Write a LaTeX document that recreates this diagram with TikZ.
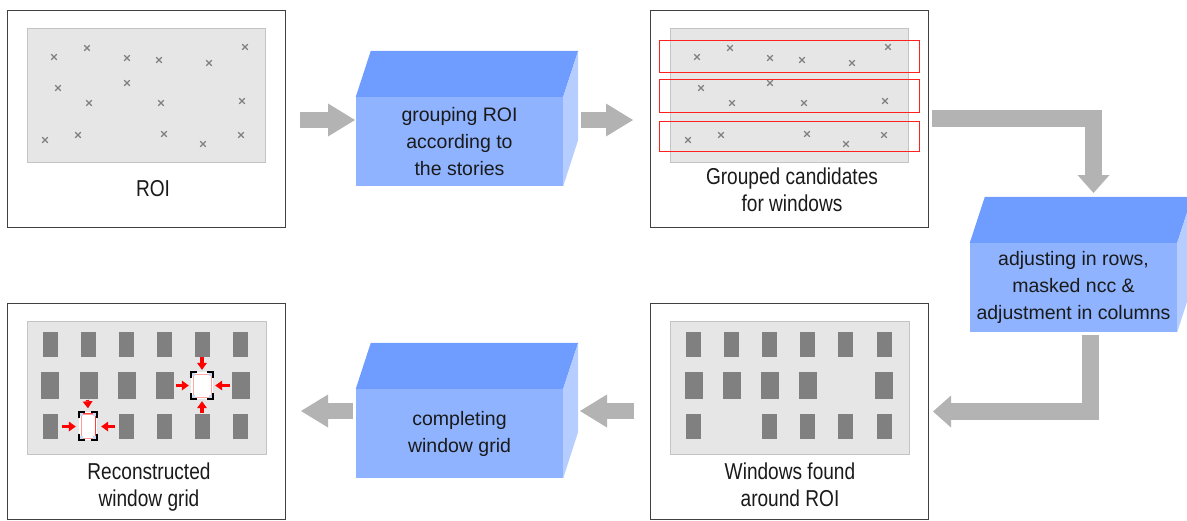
\documentclass[tikz,border=0pt]{standalone}
\usepackage{fontspec}
\setmainfont{Liberation Sans}
\newfontfamily\lblfont{Liberation Sans}[FakeStretch=0.83]
\usetikzlibrary{arrows.meta,calc}

\definecolor{framegray}{HTML}{404040}
\definecolor{areagray}{HTML}{E6E6E6}
\definecolor{areaedge}{HTML}{C4C4C4}
\definecolor{markgray}{HTML}{7F7F7F}
\definecolor{wingray}{HTML}{808080}
\definecolor{flowgray}{HTML}{B3B3B3}
\definecolor{frontblue}{HTML}{8FB3FF}
\definecolor{topblue}{HTML}{6E9DFF}
\definecolor{sideblue}{HTML}{B5CEFF}
\definecolor{groupred}{HTML}{FF2020}
\definecolor{glassblue}{HTML}{C8DCF5}
\definecolor{textblack}{HTML}{1A1A1A}

\tikzset{
  panel/.style={draw=framegray, line width=0.9pt, fill=white, minimum width=278, minimum height=217, inner sep=0},
  area/.style={draw=areaedge, line width=0.8pt, fill=areagray, minimum width=238, minimum height=134, inner sep=0},
  grouprow/.style={draw=groupred, line width=1.4pt, minimum width=260, inner sep=0},
  procbox/.style={fill=frontblue, minimum width=207, minimum height=89, inner sep=0, align=center,
    text=textblack, font=\fontsize{19.5}{27}\selectfont},
  lbl/.style={inner sep=0, align=center, text=textblack, font=\lblfont\fontsize{23}{27}\selectfont},
  crossmark/.style={draw=markgray, line width=1.2pt},
  win/.style={fill=wingray},
  gapbox/.style={fill=white, inner sep=0, minimum width=22, minimum height=27},
  flow/.style={draw=flowgray, line width=16pt, -{Triangle[length=27pt,width=33pt,line width=0pt]}},
  flowbend/.style={draw=flowgray, line width=17pt, line join=miter, -{Triangle[length=18pt,width=32pt,line width=0pt]}},
  push/.style={draw=red, line width=3.2pt, -{Triangle[length=7pt,width=10pt,line width=0pt]}},
}

% top and right faces of a process block
\newcommand\blockfaces[1]{%
  \fill[topblue] (#1.north west) -- ++(15,-46) -- ($(#1.north east)+(15,-46)$) -- (#1.north east) -- cycle;
  \fill[sideblue] (#1.north east) -- ++(15,-46) -- ++(0,89) -- (#1.south east) -- cycle;}

% corner brackets and glass tint of a re-inserted window
\newcommand\gapcorners[1]{%
  \fill[glassblue] (#1.north west) rectangle ++(4,4);
  \fill[glassblue] (#1.north east) rectangle ++(-4,4);
  \fill[glassblue] (#1.south west) rectangle ++(4,-4);
  \fill[glassblue] (#1.south east) rectangle ++(-4,-4);
  \draw[black, line width=1.6pt]
    ($(#1.north west)+(0,6)$) -- (#1.north west) -- ++(6,0)
    ($(#1.north east)+(-6,0)$) -- (#1.north east) -- ++(0,6)
    ($(#1.south west)+(0,-6)$) -- (#1.south west) -- ++(6,0)
    ($(#1.south east)+(-6,0)$) -- (#1.south east) -- ++(0,-6);}

\begin{document}
\begin{tikzpicture}[x=1pt,y=-1pt]
\useasboundingbox (0,0) rectangle (1187,520);
\clip (0,0) rectangle (1187,520);

% ---------- panels ----------
\node[panel] (roi) at (146,118.5) {};
\node[area] (roiarea) at (146,95) {};
\node[panel] (grouped) at (789,118.5) {};
\node[area] (grouparea) at (789,95) {};
\node[panel, minimum height=216] (found) at (789,411) {};
\node[area, minimum width=239, minimum height=133] (foundarea) at (789.5,387.5) {};
\node[panel, minimum height=216] (recon) at (146,411) {};
\node[area, minimum width=239, minimum height=133] (reconarea) at (146.5,387.5) {};

% ---------- candidate marks ----------
\foreach \dx in {0,643}{
  \foreach \x/\y in {54/57,87/48,127/58,159/60,209/63,245/47,
                     58/88,127/83,89/103,161/103,242/101,
                     45/140,78/135,164/134,203/144,241/135}{
    \draw[crossmark] (\x+\dx-2.8,\y-2.8) -- (\x+\dx+2.8,\y+2.8)
                     (\x+\dx-2.8,\y+2.8) -- (\x+\dx+2.8,\y-2.8);
  }
}

% ---------- story groups ----------
\node[grouprow, minimum height=32] (story1) at (789.5,56.5) {};
\node[grouprow, minimum height=33] (story2) at (789.5,96) {};
\node[grouprow, minimum height=30] (story3) at (789.5,136.5) {};

% ---------- windows found ----------
\foreach \x in {686,724,762,800,838,877} \fill[win] (\x,332) rectangle ++(15,25);
\foreach \x in {685,723,761,799,875} \fill[win] (\x,372) rectangle ++(18,27);
\foreach \x in {686,762,800,838,877} \fill[win] (\x,414) rectangle ++(15,25);

% ---------- reconstructed grid ----------
\foreach \x in {43,81,119,157,195,233} \fill[win] (\x,332) rectangle ++(15,25);
\foreach \x in {41,80,118,156,232} \fill[win] (\x,372) rectangle ++(18,27);
\foreach \x in {43,119,157,195,233} \fill[win] (\x,414) rectangle ++(15,25);

\node[gapbox] (gapA) at (202,385.5) {};
\draw[red!35, line width=0.5pt] ($(gapA.north west)+(2,2)$) rectangle ($(gapA.south east)+(-2,-2)$);
\gapcorners{gapA}
\node[gapbox, minimum width=18, minimum height=28] (gapB) at (88,426) {};
\draw[red!40, line width=0.5pt] ($(gapB.north west)+(2,2)$) rectangle ($(gapB.south east)+(-2,-2)$);
\draw[red!75, line width=0.8pt] ($(gapB.north west)+(2,2)$) -- ($(gapB.north east)+(-2,2)$) -- ($(gapB.south east)+(-2,-2)$);
\gapcorners{gapB}

\coordinate (pA1) at (202,357);
\coordinate (pA2) at (202,413);
\coordinate (pA3) at (176,385.5);
\coordinate (pA4) at (230,385.5);
\draw[push] (pA1) -- ($(gapA.north)+(0,-2)$);
\draw[push] (pA2) -- ($(gapA.south)+(0,2)$);
\draw[push] (pA3) -- ($(gapA.west)+(-2,0)$);
\draw[push] (pA4) -- ($(gapA.east)+(2,0)$);
\coordinate (pB1) at (87.5,400);
\coordinate (pB3) at (61.5,426.5);
\coordinate (pB4) at (115,426.5);
\draw[push] (pB1) -- ($(gapB.north)+(0,-3.5)$);
\draw[push] (pB3) -- ($(gapB.west)+(-3,0.5)$);
\draw[push] (pB4) -- ($(gapB.east)+(4,0.5)$);

% ---------- panel captions ----------
\node[lbl] (roilbl) at (153,189) {ROI};
\node[lbl] (groupedlbl) at (792,190) {Grouped candidates\\for windows};
\node[lbl] (foundlbl) at (790,485) {Windows found\\around ROI};
\node[lbl] (reconlbl) at (149,487) {Reconstructed\\window grid};

% ---------- process blocks ----------
\node[procbox] (grouping) at (459.5,141.5) {grouping ROI\\according to\\the stories};
\blockfaces{grouping}
\node[procbox] (adjusting) at (1073.5,287.5) {adjusting in rows,\\masked ncc \&\\adjustment in columns};
\blockfaces{adjusting}
\node[procbox] (completing) at (459.5,433.5) {completing\\window grid};
\blockfaces{completing}

% ---------- flow arrows ----------
\coordinate (f1s) at (300,120);   \coordinate (f1e) at (355,120);
\coordinate (f2s) at (581,120);   \coordinate (f2e) at (633,120);
\coordinate (f3s) at (932,118);   \coordinate (f3e) at (1093.5,193);
\coordinate (f4s) at (1090,335);  \coordinate (f4e) at (933,411.5);
\coordinate (f5s) at (634,411);   \coordinate (f5e) at (580,411);
\coordinate (f6s) at (353,411);   \coordinate (f6e) at (301,411);
\draw[flow] (f1s) -- (f1e);
\draw[flow] (f2s) -- (f2e);
\draw[flowbend] (f3s) -| (f3e);
\draw[flowbend] (f4s) |- (f4e);
\draw[flow] (f5s) -- (f5e);
\draw[flow] (f6s) -- (f6e);
\end{tikzpicture}
\end{document}
